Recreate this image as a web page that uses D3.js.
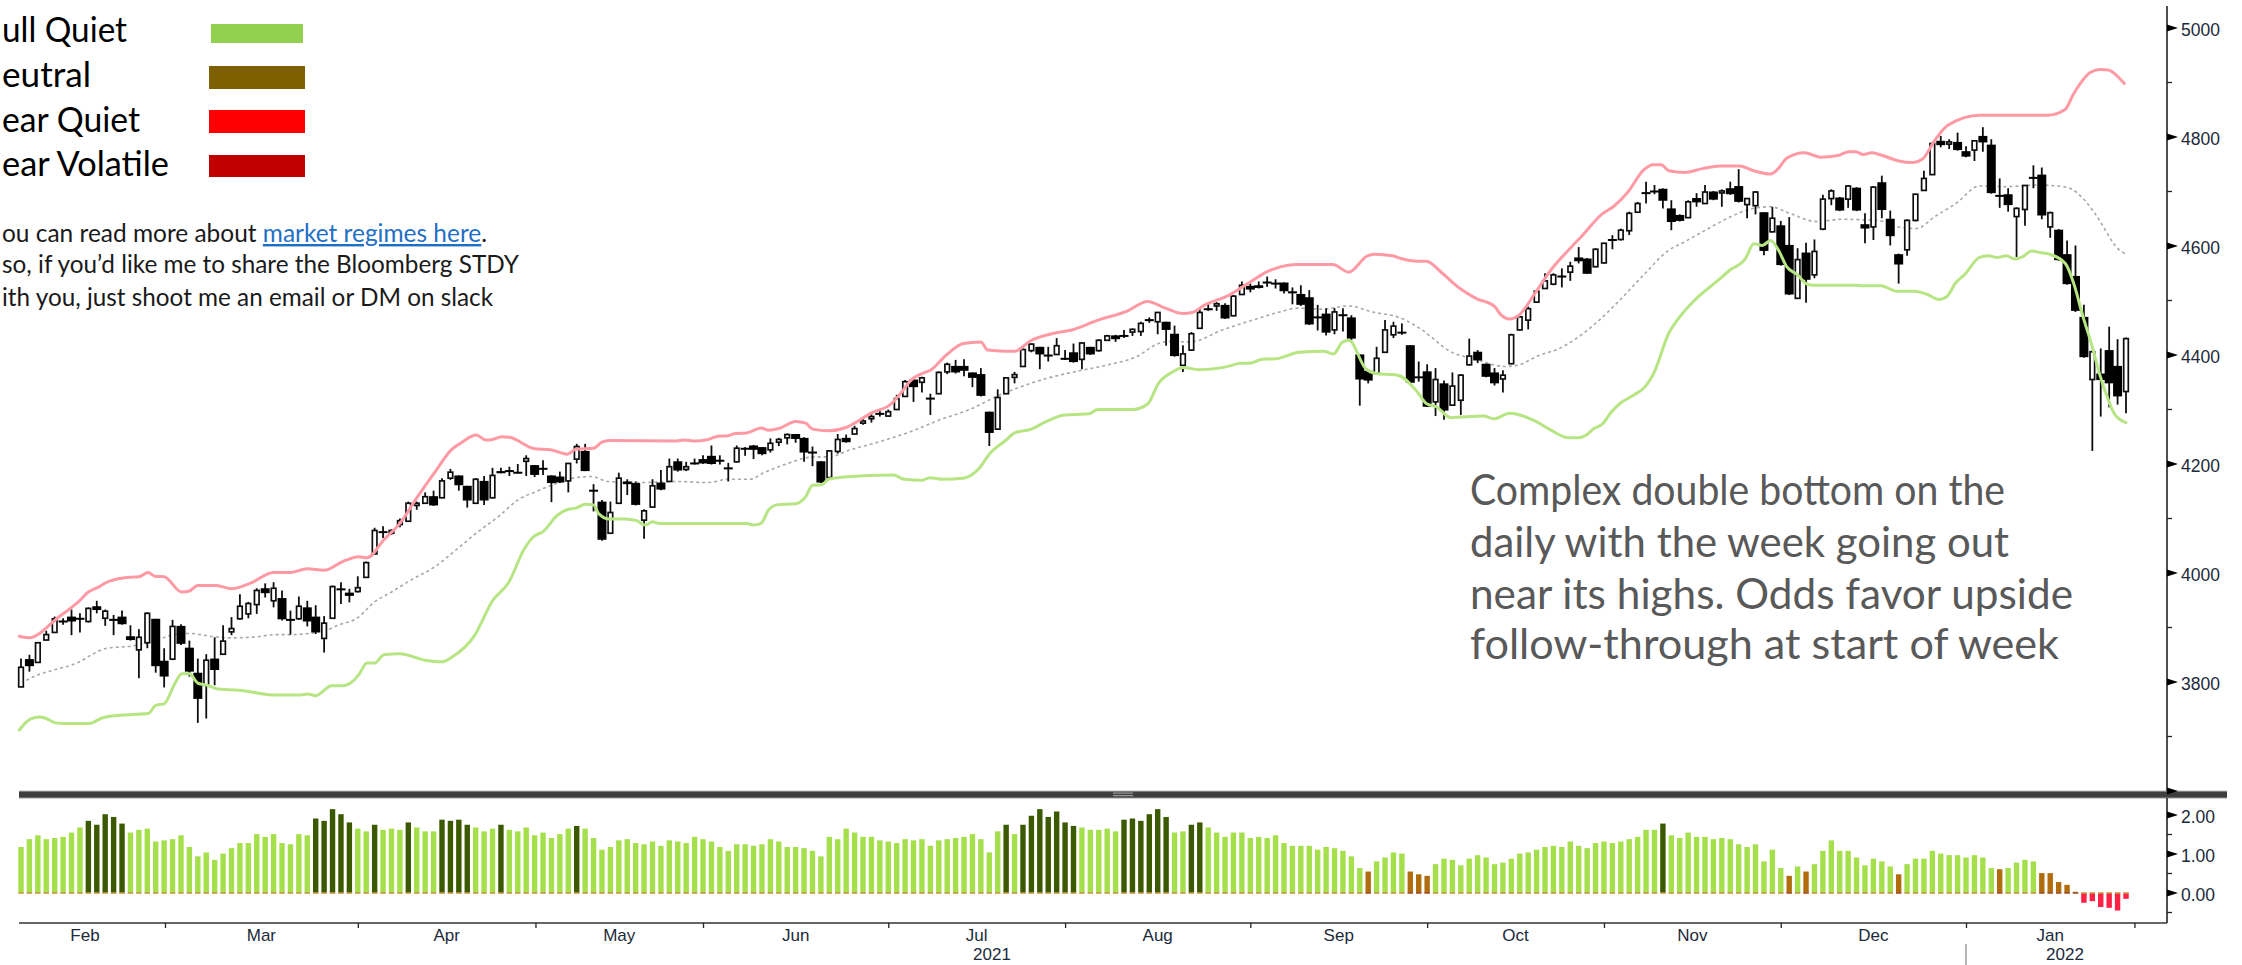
<!DOCTYPE html>
<html><head><meta charset="utf-8">
<script src="https://cdn.jsdelivr.net/npm/d3@7"></script>
<style>
html,body{margin:0;padding:0;background:#fff;overflow:hidden}
svg{display:block}
</style></head><body>
<svg id="c" width="2242" height="965"></svg>
<script>
// ---- candles (price) ----
const opens=[3791,3842,3836,3877,3891,3911,3920,3916,3911,3939,3917,3914,3920,3884,3859,3872,3916,3839,3842,3903,3863,3817,3794,3843,3851,3892,3916,3925,3942,3972,3949,3954,3914,3916,3937,3920,3880,3917,3970,3964,3966,3992,4035,4075,4073,4089,4095,4124,4128,4141,4138,4174,4179,4160,4128,4169,4138,4187,4187,4184,4205,4198,4193,4179,4177,4169,4209,4224,4151,4131,4073,4128,4168,4165,4097,4121,4166,4168,4205,4190,4201,4209,4215,4206,4192,4204,4228,4234,4231,4226,4240,4248,4255,4248,4221,4205,4175,4223,4248,4255,4275,4283,4292,4288,4300,4324,4355,4350,4320,4329,4369,4380,4380,4368,4365,4296,4264,4329,4359,4379,4408,4415,4399,4401,4393,4405,4392,4415,4408,4427,4436,4435,4442,4443,4464,4461,4461,4439,4381,4409,4449,4484,4490,4492,4472,4511,4527,4528,4533,4531,4533,4515,4512,4506,4469,4476,4446,4473,4469,4401,4371,4366,4405,4437,4441,4418,4359,4370,4314,4348,4308,4317,4382,4406,4384,4368,4356,4384,4446,4464,4497,4522,4530,4544,4552,4579,4577,4562,4569,4611,4612,4628,4662,4697,4700,4705,4669,4657,4652,4688,4678,4700,4698,4706,4710,4676,4674,4662,4626,4638,4602,4504,4588,4547,4631,4687,4689,4686,4707,4640,4635,4717,4650,4585,4593,4647,4702,4731,4793,4787,4791,4774,4776,4802,4786,4692,4695,4654,4667,4725,4731,4635,4630,4585,4545,4470,4355,4366,4409,4380,4333];
const highs=[3843,3850,3873,3894,3920,3917,3933,3926,3937,3949,3933,3923,3931,3904,3897,3928,3916,3862,3914,3906,3876,3843,3851,3882,3904,3919,3961,3947,3972,3981,3983,3968,3931,3957,3949,3941,3921,3977,3983,3971,3994,4021,4083,4086,4080,4100,4131,4131,4148,4151,4174,4191,4179,4160,4174,4178,4193,4193,4195,4200,4216,4198,4207,4179,4186,4201,4237,4237,4163,4134,4131,4184,4172,4168,4117,4172,4189,4210,4210,4204,4210,4216,4234,4216,4202,4234,4231,4235,4231,4247,4248,4256,4255,4249,4232,4205,4225,4255,4254,4270,4284,4292,4299,4300,4327,4354,4356,4360,4329,4370,4386,4391,4392,4368,4376,4296,4337,4359,4369,4412,4421,4415,4415,4431,4409,4421,4423,4415,4429,4437,4437,4446,4449,4461,4469,4479,4461,4454,4418,4442,4487,4495,4497,4495,4510,4535,4531,4535,4544,4539,4533,4524,4528,4519,4492,4486,4486,4486,4473,4401,4374,4415,4464,4461,4458,4418,4388,4383,4376,4353,4368,4365,4430,4409,4384,4376,4372,4439,4471,4489,4519,4550,4550,4559,4571,4598,4578,4596,4606,4620,4632,4663,4681,4718,4712,4706,4684,4658,4684,4697,4712,4701,4704,4718,4741,4688,4701,4662,4672,4646,4653,4596,4606,4612,4694,4704,4690,4712,4708,4660,4710,4729,4665,4586,4649,4696,4738,4790,4802,4796,4808,4783,4794,4818,4796,4724,4706,4671,4712,4748,4744,4663,4631,4610,4601,4492,4408,4412,4452,4429,4432];
const lows=[3791,3819,3836,3877,3891,3905,3886,3891,3909,3926,3903,3886,3905,3876,3807,3862,3817,3790,3840,3868,3810,3725,3733,3794,3850,3886,3914,3917,3925,3955,3937,3913,3887,3914,3902,3888,3854,3916,3943,3946,3964,3991,4034,4064,4070,4084,4094,4116,4127,4123,4137,4171,4151,4120,4128,4125,4137,4183,4178,4183,4178,4176,4180,4130,4165,4148,4201,4187,4113,4059,4073,4128,4143,4124,4063,4120,4152,4167,4186,4187,4199,4200,4199,4199,4168,4203,4215,4209,4216,4221,4233,4236,4239,4204,4196,4165,4174,4219,4239,4254,4272,4276,4287,4287,4299,4323,4314,4331,4290,4328,4365,4366,4361,4341,4324,4233,4263,4328,4348,4378,4405,4374,4388,4400,4391,4386,4374,4400,4406,4426,4424,4431,4435,4435,4459,4438,4417,4397,4369,4408,4448,4481,4481,4466,4471,4510,4515,4522,4525,4522,4513,4493,4490,4455,4445,4436,4438,4443,4427,4307,4348,4365,4405,4431,4437,4348,4351,4305,4288,4281,4307,4290,4381,4385,4359,4344,4331,4383,4445,4447,4496,4521,4528,4524,4536,4568,4549,4561,4568,4594,4610,4620,4661,4678,4695,4669,4629,4645,4651,4672,4677,4684,4672,4694,4680,4651,4658,4583,4625,4564,4510,4503,4496,4541,4629,4675,4664,4670,4664,4605,4611,4651,4601,4531,4582,4645,4701,4730,4781,4778,4775,4763,4756,4773,4696,4670,4663,4580,4637,4706,4649,4615,4573,4529,4479,4395,4224,4287,4304,4309,4293];
const closes=[3827,3829,3872,3887,3916,3911,3911,3916,3935,3932,3930,3914,3906,3877,3882,3926,3829,3810,3902,3870,3819,3769,3840,3822,3875,3898,3939,3944,3968,3963,3972,3915,3914,3939,3911,3891,3908,3975,3970,3958,3973,4019,4078,4075,4078,4096,4128,4128,4140,4124,4169,4185,4161,4133,4172,4133,4179,4183,4187,4184,4210,4180,4190,4165,4166,4201,4232,4187,4151,4061,4111,4174,4163,4125,4114,4160,4153,4195,4188,4195,4201,4201,4200,4206,4192,4229,4228,4226,4218,4238,4245,4254,4246,4221,4221,4166,4224,4245,4240,4265,4279,4287,4292,4296,4320,4351,4341,4358,4320,4368,4383,4368,4371,4358,4325,4257,4322,4358,4364,4410,4420,4401,4399,4417,4393,4387,4422,4401,4427,4435,4429,4435,4447,4458,4464,4478,4446,4398,4402,4439,4478,4484,4494,4467,4508,4528,4520,4523,4533,4531,4517,4515,4492,4456,4469,4441,4479,4473,4430,4355,4353,4394,4446,4453,4441,4349,4359,4305,4355,4298,4343,4363,4398,4390,4360,4348,4363,4437,4470,4485,4517,4536,4547,4544,4563,4572,4549,4594,4605,4611,4629,4660,4678,4697,4700,4683,4644,4646,4681,4680,4699,4685,4701,4695,4681,4687,4699,4591,4651,4565,4511,4575,4538,4590,4686,4701,4665,4710,4665,4632,4708,4666,4618,4566,4647,4695,4724,4788,4785,4791,4776,4764,4793,4790,4697,4692,4675,4669,4711,4725,4656,4661,4574,4530,4481,4396,4406,4354,4348,4324,4430];

// ---- bands: [bar index, price] ----
const upperBand=[[-0.2,3884],[1.1,3881],[2.2,3889],[3.2,3902],[4.3,3917],[5.6,3932],[6.8,3947],[8,3965],[9.2,3974],[10.2,3983],[12.1,3991],[14,3993],[15.1,4001],[15.9,3994],[17,3993],[19.1,3965],[20,3967],[21,3977],[23.2,3977],[25,3971],[27.2,3981],[30,4001],[32,4001],[34,4008],[36,4005],[38.2,4021],[40.1,4030],[41.1,4028],[43.1,4061],[45,4091],[47.1,4140],[49.2,4186],[51.1,4226],[52.2,4238],[54.1,4253],[55.2,4244],[56,4245],[57.1,4250],[58,4249],[61,4228],[62.9,4226],[64.9,4218],[65.9,4227],[68,4229],[69,4240],[69.9,4243],[77.7,4242],[78.8,4244],[80,4242],[81.6,4245],[82.8,4251],[83.9,4252],[84.9,4256],[86.2,4257],[87.9,4266],[88.8,4262],[90,4265],[92,4278],[93.2,4275],[94,4264],[95.9,4261],[98,4267],[99,4275],[100.9,4293],[103.4,4311],[104.5,4330],[105.7,4354],[107,4366],[108,4372],[109.9,4400],[111.9,4421],[114,4424],[114.8,4409],[116.8,4407],[118,4407],[120,4427],[122.7,4440],[124.8,4446],[127.9,4464],[131.3,4480],[133.8,4498],[135.9,4486],[138,4476],[139.1,4478],[140.6,4492],[143.5,4510],[146.1,4535],[148,4553],[149,4559],[151.6,4566],[155.8,4566],[157.7,4552],[159.9,4582],[160.7,4585],[162.9,4582],[163.9,4577],[165.8,4572],[166.9,4572],[168.8,4550],[170.9,4522],[172.8,4504],[175,4489],[175.8,4473],[176.8,4466],[177.9,4473],[179.8,4513],[181.7,4556],[184,4596],[185.3,4617],[187.8,4659],[189.1,4672],[190.8,4698],[192.7,4739],[193.8,4749],[194.8,4749],[195.7,4738],[197.6,4735],[199.7,4742],[201.8,4747],[204.1,4747],[205.8,4738],[207.8,4732],[208.7,4742],[209.7,4761],[211.8,4771],[213.7,4763],[215.8,4766],[217.1,4773],[217.9,4773],[218.8,4768],[219.8,4771],[220.9,4767],[223,4756],[224.7,4753],[225.8,4759],[227.3,4794],[228.8,4821],[232.6,4840],[240.7,4840],[242.8,4851],[243.7,4877],[244.8,4903],[245.7,4918],[246.9,4924],[247.9,4923],[248.8,4914],[249.8,4898]];
const lowerBand=[[-0.2,3712],[1.1,3732],[2.2,3736],[3,3733],[4.1,3725],[5.3,3724],[8.1,3724],[9.8,3735],[12.8,3740],[15.1,3742],[16,3757],[17,3760],[18.3,3798],[19.1,3815],[20,3815],[21,3798],[22.1,3794],[23.4,3787],[25.9,3785],[30.2,3776],[33.1,3776],[34,3778],[35,3775],[36.9,3793],[38.2,3793],[39.3,3800],[40.1,3813],[41.1,3835],[42,3835],[43.1,3850],[45,3852],[48,3840],[50,3837],[51.1,3845],[53.9,3886],[56,3949],[57.9,3982],[59.8,4045],[60.9,4067],[62,4076],[63.7,4106],[65,4117],[65.9,4119],[67,4126],[68,4125],[68.6,4109],[69.9,4099],[71.8,4099],[73.1,4096],[74.1,4088],[75,4094],[75.8,4091],[86.2,4091],[87,4088],[87.9,4091],[88.8,4116],[89.8,4125],[92,4127],[93.2,4140],[94,4161],[95.1,4162],[95.9,4172],[97.7,4176],[103.6,4180],[104.9,4172],[107,4170],[107.9,4175],[109.5,4172],[111.9,4174],[113.8,4192],[115,4218],[117,4244],[118,4257],[120,4264],[121.8,4278],[123.9,4290],[126.8,4292],[127.9,4300],[132.1,4300],[133.8,4310],[135.1,4348],[136.8,4369],[138,4377],[139.9,4373],[143.6,4380],[144.8,4385],[145.9,4385],[147.4,4392],[149,4393],[151.8,4405],[154.7,4407],[155.9,4402],[156.9,4423],[157.7,4427],[159.7,4375],[160.9,4366],[163.5,4363],[165.8,4333],[166.9,4311],[168.1,4305],[169.8,4285],[173.7,4288],[174.9,4283],[176.8,4293],[179.8,4279],[181.7,4262],[183.8,4248],[184.8,4248],[185.9,4253],[186.8,4265],[187.8,4273],[188.9,4296],[189.9,4311],[191.6,4327],[192.9,4342],[193.9,4366],[195.7,4440],[197,4470],[198.8,4501],[201.4,4535],[202.9,4555],[204.8,4577],[205.8,4604],[206.8,4601],[207.8,4610],[208.7,4593],[209.7,4562],[211,4547],[212,4531],[212.8,4528],[217.9,4528],[218.8,4527],[220.9,4527],[222.8,4517],[224.9,4517],[226.4,4511],[227.8,4502],[228.7,4507],[229.8,4533],[230.8,4547],[232.6,4579],[233.6,4582],[234.7,4579],[235.8,4582],[236.8,4576],[237.7,4580],[238.8,4591],[239.8,4588],[240.9,4585],[242.8,4568],[243.8,4531],[244.9,4470],[246,4415],[246.9,4363],[247.7,4326],[248.7,4290],[250,4276]];
const middleBand=[[0,3798],[2,3813],[3.9,3822],[6.8,3836],[8.5,3851],[10.2,3862],[13.2,3866],[15.7,3874],[17.9,3886],[20,3889],[23,3883],[25,3881],[28,3883],[30.2,3887],[32,3887],[36,3894],[37.8,3905],[39.9,3917],[42,3947],[44.1,3966],[46.3,3987],[49.2,4012],[51.4,4039],[54.3,4076],[56.9,4106],[59,4134],[61.1,4149],[63.7,4165],[65.9,4175],[67.8,4177],[69.7,4168],[74,4166],[77.7,4168],[81.6,4166],[84,4172],[86.6,4172],[88.1,4183],[90.5,4198],[94.3,4213],[95.9,4213],[98.5,4226],[102,4241],[106.1,4262],[109.1,4281],[112.5,4299],[116.3,4327],[118.8,4342],[121.8,4357],[125.7,4371],[129.1,4382],[132.5,4397],[135.1,4421],[136.3,4425],[138.9,4424],[142.7,4446],[146.9,4467],[149.5,4479],[151.6,4486],[154.6,4484],[157.6,4490],[160.5,4479],[164,4467],[166.4,4446],[169.8,4406],[172.8,4392],[176.2,4379],[177.4,4380],[180.4,4400],[182.7,4412],[184.4,4427],[187,4458],[189.9,4501],[192.9,4550],[195.5,4590],[197.6,4608],[199.7,4626],[203.1,4654],[205.2,4667],[207.8,4672],[209.9,4661],[213.2,4645],[216.2,4649],[218.8,4648],[220.9,4646],[223,4635],[225.1,4632],[227.3,4654],[229.8,4678],[232.6,4710],[235.8,4709],[239.6,4712],[242.9,4708],[245.1,4684],[246.3,4660],[249.2,4593],[250,4585]];

// ---- regime indicator ----
const regimeValues=[1.18,1.38,1.48,1.38,1.41,1.44,1.55,1.68,1.85,1.75,2.02,1.95,1.78,1.55,1.62,1.65,1.32,1.35,1.38,1.48,1.18,.94,1.04,.85,1.01,1.15,1.28,1.28,1.51,1.44,1.51,1.28,1.25,1.51,1.48,1.91,1.85,2.15,2.02,1.81,1.65,1.58,1.75,1.62,1.65,1.62,1.81,1.68,1.58,1.58,1.88,1.85,1.88,1.75,1.68,1.58,1.65,1.75,1.62,1.58,1.68,1.48,1.55,1.41,1.51,1.65,1.72,1.65,1.41,1.11,1.18,1.35,1.38,1.28,1.25,1.32,1.21,1.35,1.32,1.28,1.44,1.38,1.32,1.18,1.08,1.25,1.25,
1.21,1.25,1.38,1.32,1.18,1.18,1.15,1.08,.94,1.44,1.38,1.65,1.55,1.44,1.44,1.35,1.32,1.28,1.38,1.35,1.38,1.21,1.35,1.38,1.41,1.44,1.51,1.38,1.04,1.58,1.75,1.51,1.75,1.98,2.15,1.95,2.09,1.81,1.72,1.68,1.62,1.62,1.65,1.58,1.88,1.91,1.85,2.02,2.15,1.95,1.55,1.58,1.75,1.81,1.68,1.55,1.44,1.55,1.55,1.41,1.44,1.41,1.48,1.28,1.21,1.21,1.21,1.11,1.18,1.15,1.08,.94,.64,.55,.81,.91,1.04,1.01,.55,.48,.44,.74,.88,.85,.71,.88,.97,.91,.74,
.78,.88,1.01,1.04,1.11,1.18,1.21,1.18,1.32,1.21,1.15,1.28,1.32,1.28,1.32,1.38,1.44,1.62,1.62,1.78,1.48,1.41,1.55,1.44,1.44,1.38,1.41,1.38,1.25,1.18,1.25,.81,1.11,.64,.44,.68,.55,.74,1.08,1.35,1.08,1.08,.91,.71,.88,.81,.68,.48,.74,.88,.88,1.08,1.01,.97,.97,.91,.97,.91,.64,.61,.64,.78,.85,.81,.51,.51,.28,.21,.03,-.25,-.21,-.36,-.38,-.45,-.15];
const bullVolatileBars=[8,9,10,11,12,35,36,37,38,39,42,46,50,51,52,53,57,66,117,119,120,121,122,123,124,125,131,132,133,134,135,136,139,140,195];
const neutralBars=[160,165,166,167,210,212,223,235,240,241,242,243,244];

// ---- axes & text ----
const priceMajor=[3600,3800,4000,4200,4400,4600,4800,5000];
const priceMinor=[3700,3900,4100,4300,4500,4700,4900];
const regimeMajor=[0,1,2];
const regimeMinor=[-.5,.5,1.5];
const monthNames=["Feb","Mar","Apr","May","Jun","Jul","Aug","Sep","Oct","Nov","Dec","Jan"];
const monthEdges=[-1.9,17.1,40,61.1,81,103,124,146,167,188,209,231,251];
const legendNames=["ull Quiet","eutral","ear Quiet","ear Volatile"];
const legendEnds=[127,91,140,169];
const legendColors=["#92d050","#7f6000","#ff0000","#c00000"];
const noteLines=["so, if you’d like me to share the Bloomberg STDY","ith you, just shoot me an email or DM on slack"];
const handLines=["Complex double bottom on the","daily with the week going out","near its highs. Odds favor upside","follow-through at start of week"];
const handEnds=[2005,2009,2073,2059];

const svg=d3.select("#c");
svg.append("rect").attr("width",2242).attr("height",965).attr("fill","#fff");
const defs=svg.append("defs");
defs.append("filter").attr("id","soft").attr("x","-2%").attr("y","-2%").attr("width","104%").attr("height","104%")
  .append("feGaussianBlur").attr("stdDeviation",0.45);

const x=d3.scaleLinear().domain([0,250]).range([21,2126]);
const y=d3.scaleLinear().domain([3800,5000]).range([682,28]);
const yR=d3.scaleLinear().domain([0,2]).range([893,815]);
const axisX=2167;
const labelFont='"Liberation Sans",Arial,sans-serif';

const plot=svg.append("g").attr("filter","url(#soft)");

// middle band
const lineGen=d3.line().x(d=>x(d[0])).y(d=>y(d[1])).curve(d3.curveMonotoneX);
const bands=plot.append("g").attr("fill","none").attr("stroke-linejoin","round").attr("stroke-linecap","butt");
bands.append("path").attr("d",lineGen(middleBand)).attr("stroke","#a8a8a8").attr("stroke-width",1.6).attr("stroke-dasharray","3 3");

// candles
const idx=d3.range(opens.length);
const candles=plot.append("g");
const cg=candles.selectAll("g").data(idx).join("g");
cg.append("line").attr("x1",i=>x(i)).attr("x2",i=>x(i)).attr("y1",i=>y(highs[i])).attr("y2",i=>y(lows[i]))
  .attr("stroke","#111").attr("stroke-width",1.8);
cg.append("rect")
  .attr("x",i=>x(i)-(closes[i]>opens[i]?2.3:4.5))
  .attr("width",i=>closes[i]>opens[i]?4.6:9)
  .attr("y",i=>y(Math.max(opens[i],closes[i]))-(opens[i]===closes[i]?1:0))
  .attr("height",i=>Math.max(2,y(Math.min(opens[i],closes[i]))-y(Math.max(opens[i],closes[i]))))
  .attr("fill",i=>closes[i]>opens[i]?"#fff":"#000")
  .attr("stroke",i=>closes[i]>opens[i]?"#111":"none")
  .attr("stroke-width",1.7);

// outer bands
const outer=plot.append("g").attr("fill","none").attr("stroke-linejoin","round").attr("stroke-linecap","round");
outer.append("path").attr("d",lineGen(upperBand)).attr("stroke","#ff9aa5").attr("stroke-width",3);
outer.append("path").attr("d",lineGen(lowerBand)).attr("stroke","#b7e584").attr("stroke-width",3);

// regime bars
const regimeColor=i=>{
  if(bullVolatileBars.includes(i)) return "#3b5a04";
  if(neutralBars.includes(i)) return "#b06c0e";
  if(regimeValues[i]<0) return "#ff2244";
  return "#a5df4c";
};
const rg=plot.append("g");
rg.selectAll("rect.b").data(idx).join("rect").attr("class","b")
  .attr("x",i=>x(i)-2.7).attr("width",5.4)
  .attr("y",i=>Math.min(yR(0),yR(regimeValues[i])))
  .attr("height",i=>Math.abs(yR(regimeValues[i])-yR(0)))
  .attr("fill",regimeColor);
rg.selectAll("rect.z").data(idx).join("rect").attr("class","z")
  .attr("x",i=>x(i)-2.7).attr("width",5.4).attr("y",yR(0)-.8).attr("height",1.6)
  .attr("fill",i=>neutralBars.includes(i)?"#a0522d":"#c9973f");

// separator
svg.append("rect").attr("x",19).attr("y",791).attr("width",2208).attr("height",7).attr("fill","#3f3f3f");
svg.append("rect").attr("x",19).attr("y",790.5).attr("width",2208).attr("height",1).attr("fill","#bdbdbd");
svg.append("rect").attr("x",19).attr("y",797.5).attr("width",2208).attr("height",1).attr("fill","#9a9a9a");
svg.append("rect").attr("x",1113).attr("y",792.5).attr("width",20).attr("height",1.2).attr("fill","#9c9c9c");
svg.append("rect").attr("x",1113).attr("y",795).attr("width",20).attr("height",1.2).attr("fill","#9c9c9c");

// right axes
function rightAxis(scale,major,minor,fmt,y0,y1,blank){
  const g=svg.append("g").attr("transform",`translate(${axisX},0)`);
  g.append("line").attr("y1",y0).attr("y2",y1).attr("stroke","#222").attr("stroke-width",1.6);
  const ax=d3.axisRight(scale).tickValues(major.filter(v=>!blank.includes(v))).tickSize(0).tickPadding(14).tickFormat(fmt);
  const ag=g.append("g").call(ax);
  ag.select(".domain").remove();
  ag.selectAll("text").attr("font-family",labelFont).attr("font-size",17.5).attr("fill","#1c2a3a").attr("dy",".42em");
  g.selectAll("path.tri").data(major).join("path").attr("class","tri")
    .attr("d",v=>`M0,${scale(v)-3.4}L11,${scale(v)}L0,${scale(v)+3.4}Z`).attr("fill","#000");
  g.selectAll("line.mi").data(minor).join("line").attr("class","mi")
    .attr("x1",0).attr("x2",5).attr("y1",v=>scale(v)).attr("y2",v=>scale(v)).attr("stroke","#222").attr("stroke-width",1.3);
}
rightAxis(y,priceMajor,priceMinor,d3.format("d"),6,791,[3600]);
rightAxis(yR,regimeMajor,regimeMinor,d3.format(".2f"),798,923,[]);

// bottom axis
const xg=svg.append("g").attr("transform","translate(0,923)");
xg.call(d3.axisBottom(x).tickValues(monthEdges.slice(1)).tickSize(5).tickFormat(""));
xg.select(".domain").attr("d",`M19,0H${axisX}`).attr("stroke","#333").attr("stroke-width",1.6);
xg.selectAll(".tick line").attr("stroke","#222").attr("stroke-width",1.3);
svg.append("g").selectAll("text").data(monthNames).join("text")
  .attr("x",(d,i)=>x((monthEdges[i]+monthEdges[i+1])/2)).attr("y",941)
  .attr("text-anchor","middle").attr("font-family",labelFont).attr("font-size",17).attr("fill","#1c2a3a").text(d=>d);
svg.append("text").attr("x",992).attr("y",960).attr("text-anchor","middle").attr("font-family",labelFont).attr("font-size",17).attr("fill","#1c2a3a").text("2021");
svg.append("text").attr("x",2065).attr("y",960).attr("text-anchor","middle").attr("font-family",labelFont).attr("font-size",17).attr("fill","#1c2a3a").text("2022");
svg.append("line").attr("x1",x(monthEdges[11])).attr("x2",x(monthEdges[11])).attr("y1",944).attr("y2",965).attr("stroke","#999").attr("stroke-width",1.4);

// legend
const legendBase=[41.5,86.5,131.5,175.5];
const sw=[[211,24,92,19],[209,66,96,23],[209,110,96,23],[209,155,96,22]];
legendNames.forEach((t,i)=>{
  svg.append("text").attr("x",2).attr("y",legendBase[i])
    .attr("textLength",legendEnds[i]-2).attr("lengthAdjust","spacingAndGlyphs")
    .attr("font-family","Lato,sans-serif").attr("font-size",34.5).attr("fill","#000").text(t);
  svg.append("rect").attr("x",sw[i][0]).attr("y",sw[i][1]).attr("width",sw[i][2]).attr("height",sw[i][3]).attr("fill",legendColors[i]);
});
const note=svg.append("g").attr("font-family","Lato,sans-serif").attr("font-size",24.2).attr("fill","#1a1a1a");
const l0=note.append("text").attr("x",2).attr("y",242).attr("textLength",485).attr("lengthAdjust","spacingAndGlyphs");
l0.append("tspan").text("ou can read more about ");
l0.append("tspan").attr("fill","#1f6fc4").attr("text-decoration","underline").text("market regimes here");
l0.append("tspan").text(".");
note.append("text").attr("x",2).attr("y",273).attr("textLength",517).attr("lengthAdjust","spacingAndGlyphs").text(noteLines[0]);
note.append("text").attr("x",2).attr("y",306).attr("textLength",491).attr("lengthAdjust","spacingAndGlyphs").text(noteLines[1]);

// handwritten note
const handBase=[505,557,609,659];
handLines.forEach((t,i)=>{
  svg.append("text").attr("x",1470).attr("y",handBase[i])
    .attr("font-family","Lato,sans-serif").attr("font-size",43).attr("fill","#595959")
    .attr("textLength",handEnds[i]-1470).attr("lengthAdjust","spacingAndGlyphs").text(t);
});
</script>
</body></html>
